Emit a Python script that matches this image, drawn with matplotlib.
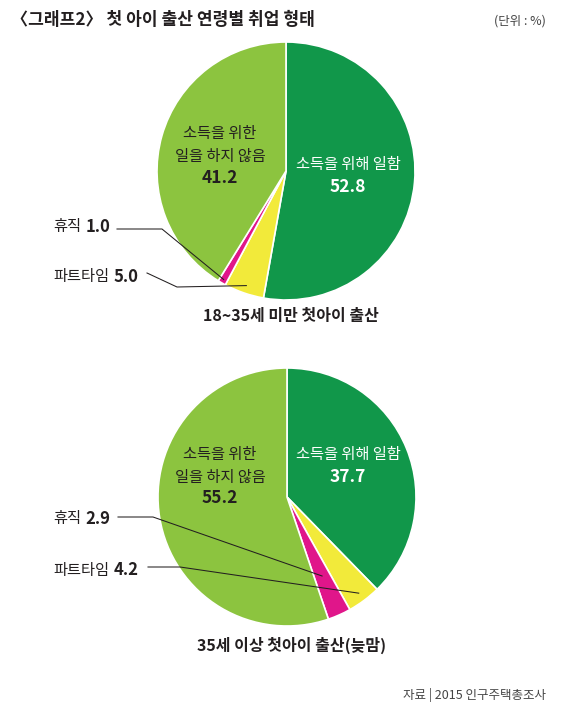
import numpy as np
import matplotlib.pyplot as plt

plt.rcParams['font.family'] = ['Noto Sans CJK KR', 'DejaVu Sans']

# 데이터
labels = ["소득을 위해 일함", "파트타임", "휴직", "소득을 위한\n일을 하지 않음"]
young = [52.8, 5.0, 1.0, 41.2]   # 18~35세 미만
old = [37.7, 4.2, 2.9, 55.2]     # 35세 이상
colors = ["#11974a", "#f2ea3a", "#e0168a", "#8cc43f"]
txt = "#231f20"

W, H = 569, 713
fig = plt.figure(figsize=(W / 100, H / 100), dpi=100)
ax = fig.add_axes([0, 0, 1, 1])


def py(y):
    # 픽셀 y (위에서부터) -> 데이터 y
    return H - y


def wedge_point(vals, idx, frac, cx, cy, r):
    # 시계방향, 12시 시작 기준 조각 중앙 방향의 점
    cum = np.cumsum([0] + list(vals))
    mid = (cum[idx] + cum[idx + 1]) / 2 / 100 * 360
    a = np.deg2rad(mid)
    return cx + frac * r * np.sin(a), py(cy) + frac * r * np.cos(a)


def draw_pie(vals, cx, cy, r):
    ax.pie(vals, colors=colors, startangle=90, counterclock=False,
           center=(cx, py(cy)), radius=r, frame=True,
           wedgeprops=dict(edgecolor="white", linewidth=1.2))


def side_label(name, value, x, y):
    t = ax.text(x, py(y), name, color=txt, fontsize=11, ha="left", va="center")
    ax.annotate(f"{value:.1f}", xy=(1, 0.5), xycoords=t, xytext=(3, 0),
                textcoords="offset points", ha="left", va="center",
                color=txt, fontsize=12, fontweight="bold")


# 위 원그래프
c1 = (286, 171, 129)
draw_pie(young, *c1)
ax.text(348, py(165), labels[0], color="white", fontsize=11, ha="center", va="center")
ax.text(348, py(187), f"{young[0]:.1f}", color="white", fontsize=12.5,
        fontweight="bold", ha="center", va="center")
ax.text(220, py(145), labels[3], color=txt, fontsize=11, ha="center", va="center",
        linespacing=1.45)
ax.text(220, py(178), f"{young[3]:.1f}", color=txt, fontsize=12.5,
        fontweight="bold", ha="center", va="center")

side_label(labels[2], young[2], 53, 227)
ex, ey = wedge_point(young, 2, 0.97, *c1)
ax.plot([117, 162, ex], [py(229), py(229), ey], color=txt, lw=0.75)

side_label(labels[1], young[1], 53, 277)
ex, ey = wedge_point(young, 1, 0.94, *c1)
ax.plot([147, 177, ex], [py(273), py(287), ey], color=txt, lw=0.75)

ax.text(291, py(316), "18~35세 미만 첫아이 출산", color=txt, fontsize=11.5,
        fontweight="bold", ha="center", va="center")

# 아래 원그래프
c2 = (287, 497, 129)
draw_pie(old, *c2)
ax.text(348, py(455), labels[0], color="white", fontsize=11, ha="center", va="center")
ax.text(348, py(477), f"{old[0]:.1f}", color="white", fontsize=12.5,
        fontweight="bold", ha="center", va="center")
ax.text(220, py(466), labels[3], color=txt, fontsize=11, ha="center", va="center",
        linespacing=1.45)
ax.text(220, py(498), f"{old[3]:.1f}", color=txt, fontsize=12.5,
        fontweight="bold", ha="center", va="center")

side_label(labels[2], old[2], 53, 519)
ex, ey = wedge_point(old, 2, 0.67, *c2)
ax.plot([118, 153, ex], [py(517), py(517), ey], color=txt, lw=0.75)

side_label(labels[1], old[1], 53, 570)
ex, ey = wedge_point(old, 1, 0.93, *c2)
ax.plot([148, 180, ex], [py(567), py(567), ey], color=txt, lw=0.75)

ax.text(292, py(645), "35세 이상 첫아이 출산(늦맘)", color=txt, fontsize=11.5,
        fontweight="bold", ha="center", va="center")

# 제목, 단위, 출처
ax.text(11, py(20), "〈그래프2〉 첫 아이 출산 연령별 취업 형태", color=txt,
        fontsize=12.3, fontweight="bold", ha="left", va="center")
ax.text(546, py(21), "(단위 : %)", color="#444444", fontsize=9, ha="right", va="center")
ax.text(546, py(695), "자료 | 2015 인구주택총조사", color="#444444", fontsize=9,
        ha="right", va="center")

ax.set_xlim(0, W)
ax.set_ylim(0, H)
ax.set_aspect("equal")
ax.axis("off")

fig.savefig("out.png", dpi=100)
